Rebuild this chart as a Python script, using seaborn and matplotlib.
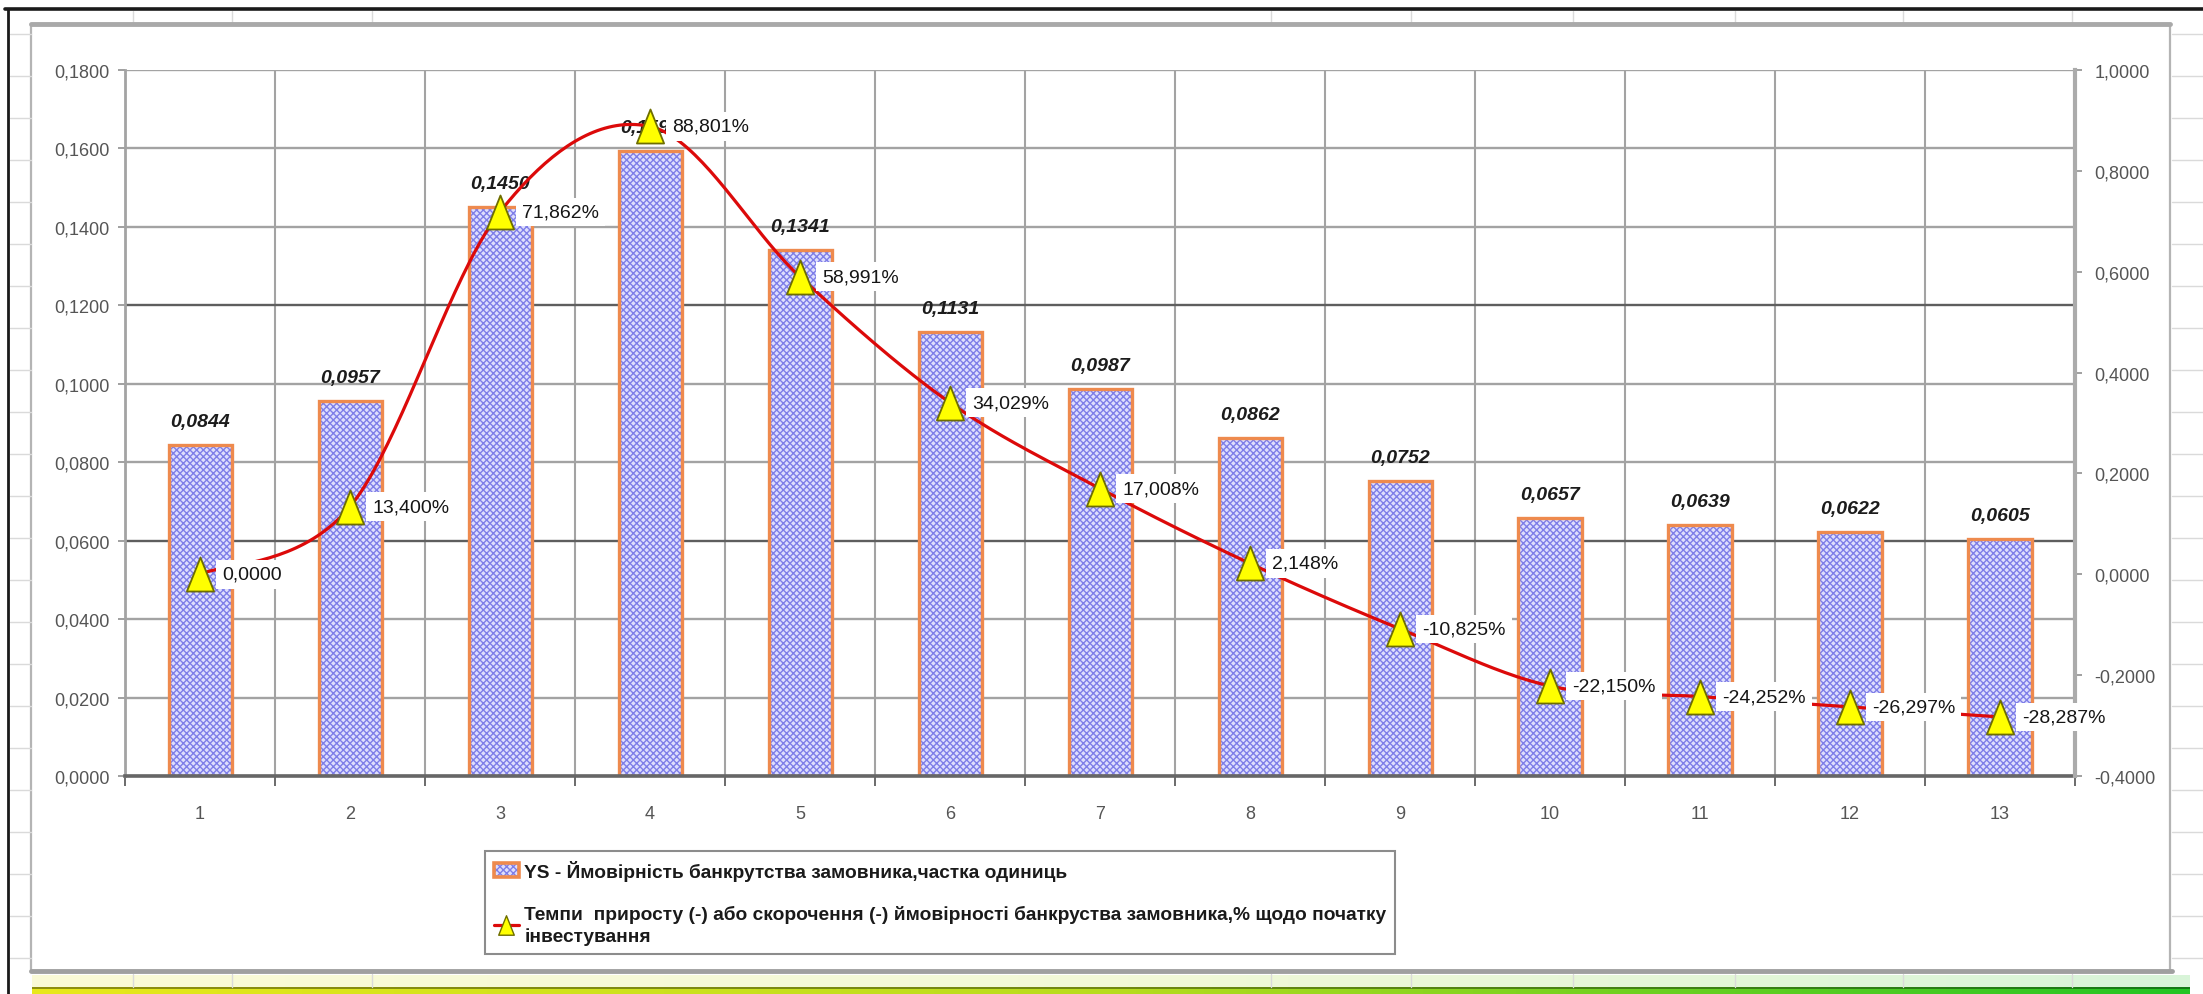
import numpy as np
import pandas as pd
import matplotlib
matplotlib.use("Agg")
import matplotlib.pyplot as plt
import seaborn as sns
from matplotlib.patches import Rectangle
from matplotlib.lines import Line2D
from matplotlib.path import Path
from matplotlib.ticker import FuncFormatter, FixedLocator
from matplotlib.colors import LinearSegmentedColormap
from matplotlib.legend_handler import HandlerTuple

# ---- data -------------------------------------------------------------
periods = [str(i) for i in range(1, 14)]
bankruptcy_prob = [0.0844, 0.0957, 0.1450, 0.1594, 0.1341, 0.1131, 0.0987,
                   0.0862, 0.0752, 0.0657, 0.0639, 0.0622, 0.0605]
growth_rate = [0.0, 0.13400, 0.71862, 0.88801, 0.58991, 0.34029, 0.17008,
               0.02148, -0.10825, -0.22150, -0.24252, -0.26297, -0.28287]
bar_name = "YS - Ймовірність банкрутства замовника,частка одиниць"
line_name = ("Темпи  приросту (-) або скорочення (-) ймовірності банкруства "
             "замовника,% щодо початку\nінвестування")

left_ticks = [0.0, 0.02, 0.04, 0.06, 0.08, 0.10, 0.12, 0.14, 0.16, 0.18]
right_ticks = [-0.4, -0.2, 0.0, 0.2, 0.4, 0.6, 0.8, 1.0]


def comma4(v, _=None):
    if abs(v) < 1e-12:
        v = 0.0
    return f"{v:.4f}".replace(".", ",")


def pct_label(v):
    if abs(v) < 1e-12:
        return "0,0000"
    return f"{v * 100:.3f}%".replace(".", ",")


# ---- figure setup -----------------------------------------------------
sns.set_style("white")
plt.rcParams["font.family"] = ["Liberation Sans", "DejaVu Sans"]
plt.rcParams["hatch.linewidth"] = 1.0

W, H = 2203, 995
fig = plt.figure(figsize=(W / 100, H / 100), dpi=100)
fig.patch.set_facecolor("white")


def fx(px):
    return px / W


def fy(py):
    return 1 - py / H


# sheet background: faint cell lines around the chart object
cell = "#dadada"
for y in np.arange(35, 990, 42):
    fig.add_artist(Line2D([fx(10), fx(31)], [fy(y), fy(y)], color=cell, lw=1))
    fig.add_artist(Line2D([fx(2172), fx(2203)], [fy(y), fy(y)], color=cell, lw=1))
for x in [133, 232, 372, 1271, 1411, 1573, 1735, 1903, 2072]:
    fig.add_artist(Line2D([fx(x), fx(x)], [fy(12), fy(24)], color=cell, lw=1))
    fig.add_artist(Line2D([fx(x), fx(x)], [fy(975), fy(988)], color=cell, lw=1))

# window edges
fig.add_artist(Line2D([fx(5), fx(2203)], [fy(10), fy(10)], color="#1a1a1a", lw=2.6))
fig.add_artist(Line2D([fx(8), fx(8)], [fy(10), fy(995)], color="#1a1a1a", lw=2.0))

# chart object frame
fig.add_artist(Rectangle((fx(31), fy(972)), fx(2170) - fx(31), fy(25) - fy(972),
                         transform=fig.transFigure, fill=False,
                         ec="#b4b4b4", lw=1.6))
fig.add_artist(Line2D([fx(31), fx(2170)], [fy(25), fy(25)], color="#a9a9a9", lw=3.5))
fig.add_artist(Line2D([fx(31), fx(2172)], [fy(972), fy(972)], color="#a0a0a0", lw=3.5))

# green/yellow status strip along the bottom
strip_cmap = LinearSegmentedColormap.from_list(
    "strip", ["#e8e81c", "#b8dc1e", "#22c424"])
grad = np.linspace(0, 1, 256)[None, :]
ax_pale = fig.add_axes([fx(32), fy(988), fx(2190) - fx(32), fy(976) - fy(988)])
ax_pale.imshow(grad, aspect="auto", cmap=strip_cmap, alpha=0.18)
ax_pale.axis("off")
ax_strip = fig.add_axes([fx(32), 0, fx(2190) - fx(32), fy(988)])
img = np.vstack([np.repeat(grad, 2, axis=0), np.repeat(grad, 5, axis=0)])
rgba = strip_cmap(img)
rgba[:2, :, :3] *= 0.62
ax_strip.imshow(rgba, aspect="auto", interpolation="nearest")
ax_strip.axis("off")

# ---- main plot --------------------------------------------------------
ax = fig.add_axes([fx(125), fy(777), fx(2075) - fx(125), fy(71) - fy(777)])
ax.set_facecolor("none")

df = pd.DataFrame({"period": periods, "prob": bankruptcy_prob,
                   "growth": growth_rate})

bar_face = "#dedefd"
bar_hatch = "#7e7ee8"
bar_edge = "#ee8a4e"

sns.barplot(data=df, x="period", y="prob", order=periods, color=bar_face,
            saturation=1, width=0.42, ax=ax, edgecolor=bar_hatch,
            linewidth=0.3, zorder=2)

bar_patches = list(ax.patches)
for p in bar_patches:
    p.set_hatch("xxxxx")
    p.set_facecolor(bar_face)
    p.set_edgecolor(bar_hatch)
    ax.add_patch(Rectangle(p.get_xy(), p.get_width(), p.get_height(),
                           fill=False, ec=bar_edge, lw=2.4, zorder=2.5))

ax.set_xlim(-0.5, len(periods) - 0.5)
ax.set_ylim(0, 0.18)
ax.yaxis.set_major_locator(FixedLocator(left_ticks))
ax.yaxis.set_major_formatter(FuncFormatter(comma4))
ax.set_xlabel("")
ax.set_ylabel("")

# category boundaries carry the vertical grid and the tick marks
ax.set_xticks(np.arange(-0.5, len(periods), 1.0), minor=True)
ax.set_axisbelow(True)
ax.yaxis.grid(True, color="#a3a3a3", lw=1.7)
ax.xaxis.grid(True, which="minor", color="#a3a3a3", lw=1.5)
ax.xaxis.grid(False, which="major")
for i, gl in enumerate(ax.get_ygridlines()):
    if left_ticks[i] in (0.06, 0.12):
        gl.set_color("#5e5e5e")

ax.tick_params(axis="x", which="major", length=0, pad=21, labelsize=13,
               labelcolor="#555555")
ax.tick_params(axis="x", which="minor", length=7, width=1.4, color="#6a6a6a",
               direction="out", bottom=True)
ax.tick_params(axis="y", length=5, width=1.4, color="#a0a0a0", pad=6,
               labelsize=13, labelcolor="#555555", left=True, direction="out")

for side in ("top", "right"):
    ax.spines[side].set_visible(False)
ax.spines["left"].set_color("#a3a3a3")
ax.spines["left"].set_linewidth(2.0)
ax.spines["bottom"].set_color("#666666")
ax.spines["bottom"].set_linewidth(2.6)

# bar value labels
for i, v in enumerate(bankruptcy_prob):
    ax.annotate(comma4(v), (i, v), xytext=(0, 17), textcoords="offset points",
                ha="center", va="center", fontsize=14, fontweight="bold",
                fontstyle="italic", color="#1c1c1c", zorder=3)

# ---- secondary axis: growth rate line --------------------------------
ax2 = ax.twinx()
ax2.set_ylim(-0.4, 1.0)
ax2.yaxis.set_major_locator(FixedLocator(right_ticks))
ax2.yaxis.set_major_formatter(FuncFormatter(comma4))
ax2.tick_params(axis="y", length=5, width=1.4, color="#a0a0a0", pad=9,
                labelsize=13, labelcolor="#555555", right=True, direction="out")
for side in ("top", "left", "bottom"):
    ax2.spines[side].set_visible(False)
ax2.spines["right"].set_color("#ababab")
ax2.spines["right"].set_linewidth(3.0)
ax2.set_ylabel("")


def smooth_curve(xv, yv, n=40):
    """Bezier smoothing through every point (Catmull-Rom tangents)."""
    pts = np.column_stack([xv, yv]).astype(float)
    ext = np.vstack([pts[0], pts, pts[-1]])
    t = np.linspace(0, 1, n, endpoint=False)[:, None]
    segs = []
    for k in range(1, len(ext) - 2):
        p0, p1, p2, p3 = ext[k - 1], ext[k], ext[k + 1], ext[k + 2]
        c1 = p1 + (p2 - p0) / 6.0
        c2 = p2 - (p3 - p1) / 6.0
        segs.append((1 - t) ** 3 * p1 + 3 * (1 - t) ** 2 * t * c1
                    + 3 * (1 - t) * t ** 2 * c2 + t ** 3 * p2)
    segs.append(pts[-1][None, :])
    return np.vstack(segs)


xpos = np.arange(len(periods))
curve = smooth_curve(xpos, growth_rate)
curve_df = pd.DataFrame({"x": curve[:, 0], "y": curve[:, 1]})
sns.lineplot(data=curve_df, x="x", y="y", sort=False, estimator=None,
             color="#dc0a0a", lw=2.3, ax=ax2, zorder=3)

tri = Path([(-0.8, -1.0), (0.8, -1.0), (0.0, 1.0), (-0.8, -1.0)],
           [Path.MOVETO, Path.LINETO, Path.LINETO, Path.CLOSEPOLY])
sns.scatterplot(x=xpos, y=growth_rate, marker=tri, s=600, color="#ffff00",
                edgecolor="#6e6e00", linewidth=1.3, ax=ax2, zorder=4)
ax2.set_xlabel("")
ax2.set_ylabel("")
ax2.set_xlim(-0.5, len(periods) - 0.5)

for i, v in enumerate(growth_rate):
    ax2.annotate(pct_label(v), (i, v), xytext=(16, 0), textcoords="offset points",
                 ha="left", va="center", fontsize=14, color="#151515",
                 zorder=5,
                 bbox=dict(boxstyle="square,pad=0.3", fc="white", ec="none"))

# ---- legend -----------------------------------------------------------
leg_fill = Rectangle((0, 0), 1, 1, facecolor=bar_face, hatch="xxxxx",
                     edgecolor=bar_hatch, lw=0.3)
leg_edge = Rectangle((0, 0), 1, 1, fill=False, edgecolor=bar_edge, lw=2.6)
line_handle = Line2D([], [], color="#dc0a0a", lw=2.3, marker=tri,
                     markersize=14, markerfacecolor="#ffff00",
                     markeredgecolor="#6e6e00", markeredgewidth=1)
leg = fig.legend([(leg_fill, leg_edge), line_handle], [bar_name, line_name],
                 handler_map={tuple: HandlerTuple(ndivide=1, pad=0)},
                 loc="upper left", bbox_to_anchor=(fx(485), fy(852)),
                 borderaxespad=0, frameon=True, fancybox=False,
                 edgecolor="#8c8c8c", framealpha=1,
                 prop={"weight": "bold", "size": 13.8},
                 handlelength=1.3, handletextpad=0.3, labelspacing=1.25,
                 borderpad=0.45)
leg.get_frame().set_linewidth(1.5)
for txt in leg.get_texts():
    txt.set_color("#1a1a1a")
    txt.set_linespacing(1.35)

fig.savefig("out.png", dpi=100, facecolor="white")
